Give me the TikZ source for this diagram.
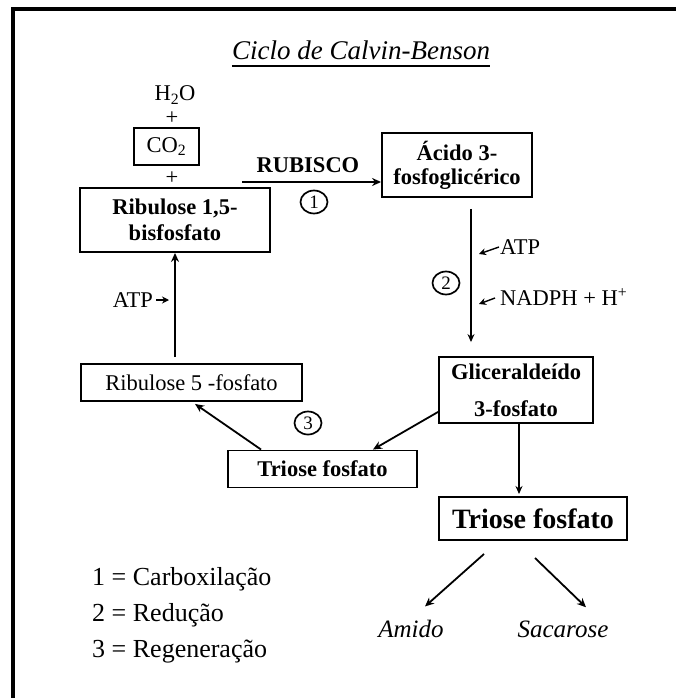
\documentclass[tikz,border=0pt]{standalone}
\usepackage{fontspec}
\setmainfont{Liberation Serif}
\usetikzlibrary{arrows.meta,calc,shapes.geometric}
\begin{document}
\begin{tikzpicture}[x=1pt,y=-1pt,
  box/.style={draw,line width=1.9pt,inner sep=0pt,align=center},
  bfont/.style={font=\fontsize{22.5}{26}\selectfont\bfseries},
  rfont/.style={font=\fontsize{22.5}{26}\selectfont},
  arr/.style={-{Stealth[length=9pt,width=8pt]},line width=1.8pt},
  sarr/.style={-{Stealth[length=7pt,width=7pt]},line width=1.4pt},
  num/.style={ellipse,draw,line width=1.7pt,minimum width=27pt,minimum height=23pt,inner sep=0pt,font=\fontsize{19}{19}\selectfont},
  lbl/.style={inner sep=0pt},
]
\useasboundingbox (0,0) rectangle (676,698);
\fill[white] (0,0) rectangle (676,698);
\draw[line width=4pt] (13,698) -- (13,9) -- (676,9);

% title
\node[lbl,font=\fontsize{27}{30}\selectfont\itshape,anchor=base] (title) at (361,60) {Ciclo de Calvin-Benson};
\draw[line width=1.3pt] ($(title.base west)+(0,6)$) -- ($(title.base east)+(0,6)$);

% reactants
\node[lbl,rfont,anchor=base] (h2o) at (175,101) {H\textsubscript{2}O};
\node[lbl,rfont] (p1) at (172,118) {+};
\node[box,rfont,line width=1.7pt,minimum width=65pt,minimum height=37pt] (co2) at (166.5,146.5) {CO\textsubscript{2}};
\node[lbl,rfont] (p2) at (172,178) {+};
\node[box,bfont,minimum width=190pt,minimum height=64pt] (rub) at (175,220) {Ribulose 1,5-\\bisfosfato};

% carboxylation
\node[lbl,bfont,anchor=base] (rubisco) at (308,172) {RUBISCO};
\node[box,font=\fontsize{22.5}{24}\selectfont\bfseries,minimum width=150pt,minimum height=64pt] (aci) at (457,165) {Ácido 3-\\fosfoglicérico};
\coordinate (rs) at (242,182);
\draw[arr] (rs) -- (rs -| aci.west);
\node[num] (n1) at (314,202) {1};

% reduction
\node[box,font=\fontsize{22.5}{37}\selectfont\bfseries,minimum width=154pt,minimum height=66pt] (glic) at (516,390) {Gliceraldeído\\3-fosfato};
\draw[-{Stealth[length=8pt,width=7pt]},line width=1.1pt] ($(aci.south)+(14,11)$) -- ($(glic.north)+(-45,-14)$);
\node[lbl,rfont,anchor=west] (atp2) at (500,247) {ATP};
\coordinate (atp2t) at (479,254);
\draw[sarr] ([xshift=-1pt]atp2.west) -- (atp2t);
\node[num] (n2) at (446,283) {2};
\node[lbl,rfont,anchor=west] (nadph) at (500,297) {NADPH + H\textsuperscript{+}};
\coordinate (nadt) at (479,304);
\draw[sarr] ([xshift=-5pt,yshift=-1pt]nadph.west) -- (nadt);

% regeneration
\node[box,rfont,minimum width=221pt,minimum height=37pt] (r5) at (191.5,382.5) {Ribulose 5 -fosfato};
\draw[arr] ($(r5.north -| rub.south)+(0,-6)$) -- (rub.south);
\node[lbl,rfont,anchor=east] (atp1) at (153,300) {ATP};
\coordinate (atp1t) at (169,300);
\draw[sarr] ([xshift=3pt]atp1.east) -- (atp1t);

\node[box,bfont,minimum width=189pt,minimum height=37pt] (tri1) at (322.5,469) {Triose fosfato};
\node[num] (n3) at (308,423) {3};
\draw[arr] ($(tri1.north west)+(34,0)$) -- ($(r5.south west)+(115,2)$);
\draw[arr] ($(glic.south west)+(0,-12)$) -- ($(tri1.north east)+(-45,0)$);

% export
\node[box,font=\fontsize{28}{32}\selectfont\bfseries,line width=2pt,minimum width=188pt,minimum height=43pt] (tri2) at (533,518.5) {Triose fosfato};
\draw[-{Stealth[length=8pt,width=7pt]},line width=1.5pt] ($(glic.south)+(3,0)$) -- ($(tri2.north)+(-14,-2)$);
\node[lbl,font=\fontsize{25}{30}\selectfont\itshape,anchor=base] (amido) at (411,637) {Amido};
\node[lbl,font=\fontsize{25}{30}\selectfont\itshape,anchor=base] (sac) at (563,637) {Sacarose};
\draw[arr] ($(tri2.south west)+(46,13)$) -- ($(amido.north)+(14,-13)$);
\draw[arr] ($(tri2.south)+(2,17)$) -- ($(sac.north)+(23,-13)$);

% legend
\node[lbl,font=\fontsize{26}{30}\selectfont,anchor=base west] (l1) at (92,585) {1 = Carboxilação};
\node[lbl,font=\fontsize{26}{30}\selectfont,anchor=base west] (l2) at (92,621) {2 = Redução};
\node[lbl,font=\fontsize{26}{30}\selectfont,anchor=base west] (l3) at (92,657) {3 = Regeneração};
\end{tikzpicture}
\end{document}
